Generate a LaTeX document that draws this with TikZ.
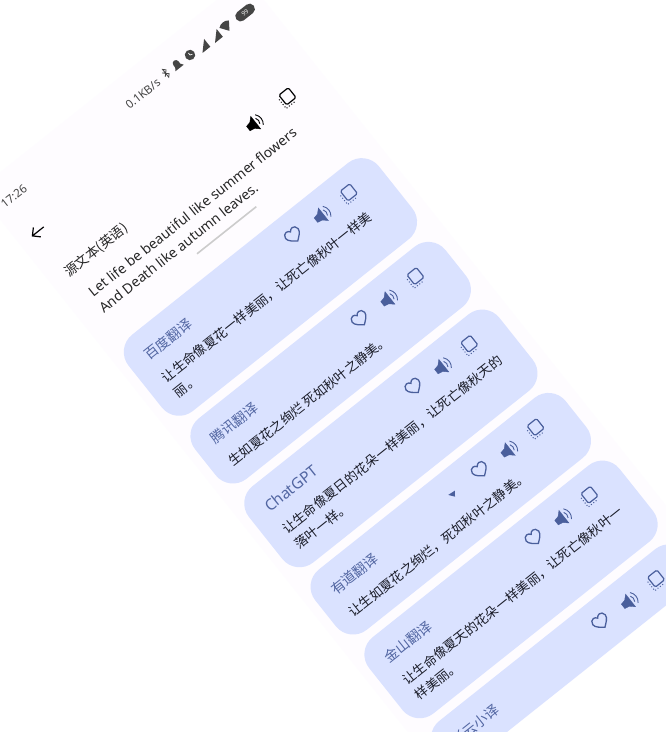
\documentclass[tikz,border=0pt]{standalone}
\usepackage{fontspec}
\setmainfont{Noto Sans}
\newfontfamily\cjk{Noto Sans CJK SC}
\usepackage{tikz}
\usetikzlibrary{positioning}
\definecolor{phonebg}{HTML}{FEFCFF}
\definecolor{cardbg}{HTML}{DAE2FF}
\definecolor{iconblue}{HTML}{4A5F9C}
\definecolor{titleblue}{HTML}{5266A2}
\definecolor{bodyink}{HTML}{1A1C28}
\definecolor{statusgray}{HTML}{454545}
\tikzset{
  card/.style={fill=cardbg,rounded corners=22pt,minimum width=320pt,inner sep=0pt,anchor=north},
  title/.style={anchor=west,inner sep=0pt,text=titleblue,font=\cjk\fontsize{14}{14}\selectfont},
  body/.style={anchor=west,inner sep=0pt,text=bodyink,font=\cjk\fontsize{13.15}{13}\selectfont},
  source/.style={anchor=west,inner sep=0pt,text=black!85,font=\fontsize{13.9}{14}\selectfont},
  status/.style={anchor=west,inner sep=0pt,text=statusgray,font=\fontsize{11.5}{11}\selectfont},
  heart/.pic={
    \draw[iconblue,line width=1.3pt] (0,7) .. controls (-3,4.5) and (-8,1.5) .. (-8,-2.5)
      .. controls (-8,-5.5) and (-5.5,-7) .. (-3.8,-7) .. controls (-2.2,-7) and (-0.8,-6) .. (0,-4.6)
      .. controls (0.8,-6) and (2.2,-7) .. (3.8,-7) .. controls (5.5,-7) and (8,-5.5) .. (8,-2.5)
      .. controls (8,1.5) and (3,4.5) .. (0,7) -- cycle;
  },
  speaker/.pic={
    \fill[pic actions] (-8.5,-2.8) -- (-3.5,-3.8) -- (1,-8) -- (1,8) -- (-3.5,3.8) -- (-8.5,2.8) -- cycle;
    \draw[pic actions,fill=none,line width=.9pt] (3.5,-3.5) .. controls (5,-1.5) and (5,1.5) .. (3.5,3.5);
    \draw[pic actions,fill=none,line width=.9pt] (5.5,-6.5) .. controls (8.8,-2.5) and (8.8,2.5) .. (5.5,6.5);
  },
  copyicon/.pic={
    \draw[pic actions,fill=none,line width=1.2pt,rounded corners=1.5pt] (-6,-7.5) rectangle (6,5);
    \draw[pic actions,fill=none,line width=1pt,dotted] (-8.5,-4) -- (-8.5,7.5) -- (3,7.5);
  },
}
\begin{document}
\begin{tikzpicture}[x=1pt,y=-1pt]
  \useasboundingbox (0,0) rectangle (666,732);
  \fill[white] (0,0) rectangle (666,732);
  \begin{scope}[rotate=38.5,transform shape]
    \fill[phonebg] (-136.5,135) rectangle (206.5,888.5);
    % status bar
    \node[status] (time) at (-126,162) {17:26};
    \node[status] (speed) at (33,162.3) {0.1KB/s};
    \draw[statusgray,line width=.8pt] (81.5,158) -- (86.5,163) -- (84,165.5) -- (84,155.5) -- (86.5,158) -- (81.5,163);
    \fill[statusgray] (93,165) -- (103.5,165) -- (101.5,162) -- (101.5,159) arc (0:-180:3.2 and 3.2) -- (95,162) -- cycle;
    \fill[statusgray] (114.5,161.3) circle (5.2pt);
    \draw[white,line width=.7pt] (114.5,158.8) -- (114.5,161.3) -- (116.8,162.3);
    \fill[statusgray] (125.5,167.5) -- (135.5,167.5) -- (135.5,157.5) -- cycle;
    \fill[statusgray] (141.5,167.5) -- (151.5,167.5) -- (151.5,157.5) -- cycle;
    \fill[statusgray] (160.4,167) -- (154.4,158.5) .. controls (157.5,155.5) and (163.3,155.5) .. (166.4,158.5) -- cycle;
    \node[fill=statusgray,rounded corners=5pt,minimum width=22pt,minimum height=10.5pt,inner sep=0pt,text=white,font=\fontsize{6}{6}\selectfont] (battery) at (184,162.4) {99};
    % header
    \draw[black,line width=1.2pt] (-107,204.8) -- (-121.5,204.8) (-115.5,198.8) -- (-121.5,204.8) -- (-115.5,210.8);
    \pic[fill=black,draw=black] at (122.8,255.2) {speaker};
    \pic[draw=black] at (165,255.6) {copyicon};
    \node[anchor=west,inner sep=0pt,text=black!85,font=\cjk\fontsize{13.5}{13}\selectfont] (srclabel) at (-119,255.9) {源文本(英语)};
    \node[source] (srcone) at (-112.2,285.5) {Let life be beautiful like summer flowers};
    \node[source] (srctwo) at (-114,305) {And Death like autumn leaves.};
    \draw[black!20,line width=1.6pt] (-3.8,321.3) -- (71.9,321.3);
    % cards
    \node[card,minimum height=97.5pt] (baidu) at (33,344) {};
    \node[card,minimum height=77pt] (tencent) at (33,451) {};
    \node[card,minimum height=97.5pt] (gpt) at (33,537.5) {};
    \node[card,minimum height=77pt] (youdao) at (33,644) {};
    \node[card,minimum height=97.5pt] (jinshan) at (33,730.5) {};
    \begin{scope}
      \clip (-136.5,830) rectangle (206.5,888.5);
      \node[card,minimum height=97.5pt] (caiyun) at (33,837.5) {};
    \end{scope}
    \node[title] (baidut) at (-108,370) {百度翻译};
    \node[body] (baidua) at (-108,398.8) {让生命像夏花一样美丽，让死亡像秋叶一样美};
    \node[body] (baidub) at (-108,418.3) {丽。};
    \node[title] (tencentt) at (-108,477) {腾讯翻译};
    \node[body] (tencenta) at (-108,505.8) {生如夏花之绚烂 死如秋叶之静美。};
    \node[title,font=\fontsize{15.5}{15}\selectfont] (gptt) at (-108,563.5) {ChatGPT};
    \node[body] (gpta) at (-108,592.3) {让生命像夏日的花朵一样美丽，让死亡像秋天的};
    \node[body] (gptb) at (-108,611.8) {落叶一样。};
    \node[title] (youdaot) at (-108,670) {有道翻译};
    \node[body] (youdaoa) at (-108,698.8) {让生如夏花之绚烂，死如秋叶之静美。};
    \node[title] (jinshant) at (-108,756.5) {金山翻译};
    \node[body] (jinshana) at (-108,785.3) {让生命像夏天的花朵一样美丽，让死亡像秋叶一};
    \node[body] (jinshanb) at (-108,804.8) {样美丽。};
    \node[title] (caiyunt) at (-108,863.5) {彩云小译};
    \fill[iconblue] (42.7,666.4) -- (50.6,667.2) -- (46.9,672) -- cycle;
    \foreach \top in {344,451,537.5,644,730.5,837.5}{
      \pic at (83,\top+23) {heart};
      \pic[fill=iconblue,draw=iconblue] at (118.7,\top+25) {speaker};
      \pic[draw=iconblue] at (153.3,\top+25) {copyicon};
    }
  \end{scope}
\end{tikzpicture}
\end{document}
